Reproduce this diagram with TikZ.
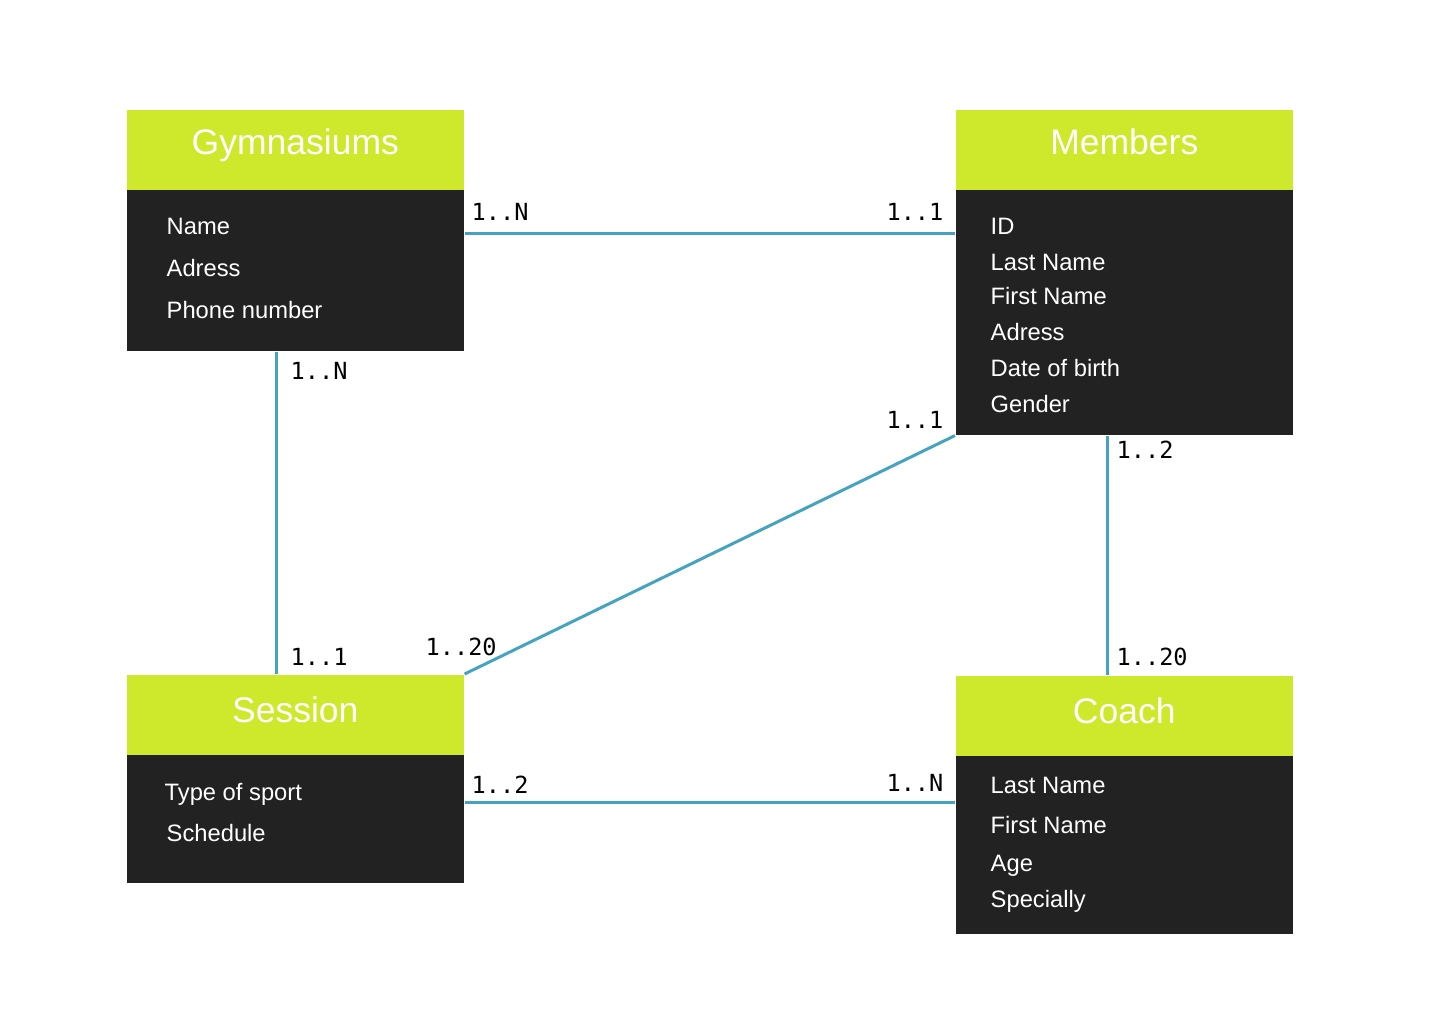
\documentclass[tikz,border=0pt]{standalone}
\usepackage{fontspec}
\setmainfont{Liberation Sans}
\newfontfamily\cardfont{DejaVu Sans Mono}
\usepackage{tikz}
\usetikzlibrary{positioning}
\definecolor{lime}{HTML}{CEE82C}
\definecolor{coal}{HTML}{222222}
\definecolor{linkblue}{HTML}{45A3C0}
\tikzset{
	head/.style={rectangle, fill=lime, text=white, anchor=north west, minimum width=3.37cm, minimum height=0.8cm, inner sep=0pt, text height=0.716em, text depth=0.45em, font=\fontsize{10.1}{12}\selectfont},
	lowhead/.style={head, text depth=0.3em},
	body/.style={rectangle, fill=coal, anchor=north west, minimum width=3.37cm, inner sep=0pt},
	attr/.style={anchor=base west, text=white, inner sep=0pt, font=\fontsize{6.75}{8}\selectfont},
	card/.style={inner sep=0pt, font=\cardfont\fontsize{6.7}{8}\selectfont},
	rel/.style={draw=linkblue, line width=0.85pt},
}
\begin{document}
\begin{tikzpicture}[x=0.01cm, y=-0.01cm]
			\useasboundingbox[fill=white] (0,0) rectangle (1440,1024);
			
			% entities
			\node[body, minimum height=1.61cm] (gymbody) at (126,189) {};
			\node[head] (gymhead) at (126,109) {Gymnasiums};
			\node[body, minimum height=2.45cm] (membody) at (955,189) {};
			\node[head] (memhead) at (955,109) {Members};
			\node[body, minimum height=1.28cm] (sessbody) at (126,754) {};
			\node[lowhead] (sesshead) at (126,674) {Session};
			\node[body, minimum height=1.78cm] (coachbody) at (955,755) {};
			\node[lowhead] (coachhead) at (955,675) {Coach};
			
			% attributes
			\node[attr] (g1) at (166,234) {Name};
			\node[attr] (g2) at (166,276) {Adress};
			\node[attr] (g3) at (166,318) {Phone number};
			
			\node[attr] (m1) at (990,234) {ID};
			\node[attr] (m2) at (990,270) {Last Name};
			\node[attr] (m3) at (990,304) {First Name};
			\node[attr] (m4) at (990,340) {Adress};
			\node[attr] (m5) at (990,376) {Date of birth};
			\node[attr] (m6) at (990,412) {Gender};
			
			\node[attr] (s1) at (164,800) {Type of sport};
			\node[attr] (s2) at (166,841) {Schedule};
			
			\node[attr] (c1) at (990,793) {Last Name};
			\node[attr] (c2) at (990,833) {First Name};
			\node[attr] (c3) at (990,871) {Age};
			\node[attr] (c4) at (990,907) {Specially};
			
			% relations
			\draw[rel] ([yshift=-0.44cm]gymbody.north east) -- ([yshift=-0.44cm]gymbody.north east -| membody.west);
			\draw[rel] ([xshift=-0.185cm]gymbody.south) -- ([xshift=-0.185cm]sesshead.north);
			\draw[rel] (membody.south west) -- (sesshead.north east);
			\draw[rel] ([xshift=-0.165cm]membody.south) -- ([xshift=-0.165cm]coachhead.north);
			\draw[rel] ([yshift=-0.48cm]sessbody.north east) -- ([yshift=-0.48cm]sessbody.north east -| coachbody.west);
			
			% cardinalities
			\node[card, anchor=base west] (k1) at (471,220) {1..N};
			\node[card, anchor=base east] (k2) at (944,220) {1..1};
			\node[card, anchor=base west] (k3) at (290,379) {1..N};
			\node[card, anchor=base west] (k4) at (290,665) {1..1};
			\node[card, anchor=base east] (k5) at (944,428) {1..1};
			\node[card, anchor=base west] (k6) at (425,655) {1..20};
			\node[card, anchor=base west] (k7) at (1116,458) {1..2};
			\node[card, anchor=base west] (k8) at (1116,665) {1..20};
			\node[card, anchor=base west] (k9) at (471,793) {1..2};
			\node[card, anchor=base east] (k10) at (944,791) {1..N};
		\end{tikzpicture}
\end{document}
